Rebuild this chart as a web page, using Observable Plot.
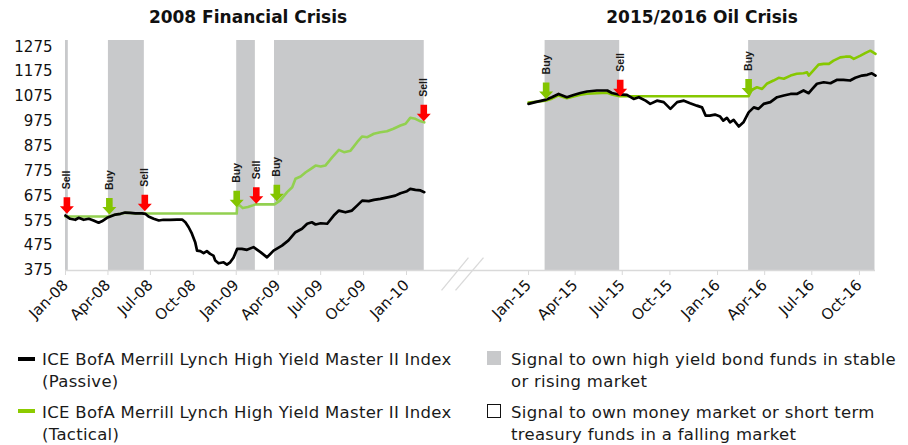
<!DOCTYPE html>
<html>
<head>
<meta charset="utf-8">
<script src="https://cdn.jsdelivr.net/npm/d3@7"></script>
<script src="https://cdn.jsdelivr.net/npm/@observablehq/plot@0.6"></script>
<style>
  body { margin: 0; background: #fff; }
  #wrap { position: relative; width: 908px; height: 445px; overflow: hidden; font-family: "DejaVu Sans", sans-serif; color: #111; }
  .title { position: absolute; top: 7px; font-weight: bold; font-size: 17px; line-height: 20px; transform: translateX(-50%); white-space: nowrap; color: #111; }
  .panel { position: absolute; top: 0; }
  .panel svg { overflow: visible; }
  .legtext { position: absolute; font-size: 16.5px; letter-spacing: 0.3px; line-height: 21.5px; white-space: nowrap; color: #1a1a1a; }
  .sw { position: absolute; }
</style>
</head>
<body>
<div id="wrap"></div>
<script>
// ---------- data ----------
const panelTitles = ["2008 Financial Crisis", "2015/2016 Oil Crisis"];
const yTicks = [375, 475, 575, 675, 775, 875, 975, 1075, 1175, 1275];
const yDomain = [375, 1300];

const leftTicks = ["2008-01-01","2008-04-01","2008-07-01","2008-10-01","2009-01-01","2009-04-01","2009-07-01","2009-10-01","2010-01-01"];
const rightTicks = ["2015-01-01","2015-04-01","2015-07-01","2015-10-01","2016-01-01","2016-04-01","2016-07-01","2016-10-01"];
const leftDomain = ["2008-01-01", "2010-04-16"];
const rightDomain = ["2014-07-15", "2016-11-01"];

// shaded periods: signal to own high yield bond funds
const leftShading = [["2008-01-01","2008-01-07"],["2008-04-02","2008-06-18"],["2009-01-02","2009-02-11"],["2009-03-24","2010-02-08"]];
const rightShading = [["2015-02-02","2015-06-26"],["2016-03-01","2016-10-31"]];

// ICE BofA Merrill Lynch High Yield Master II Index (Passive)
const passive2008 = [
 ["2008-01-01",596],["2008-01-11",583],["2008-01-22",579],["2008-01-29",587],["2008-02-09",579],["2008-02-20",583],
 ["2008-03-01",576],["2008-03-12",567],["2008-03-19",573],["2008-03-30",587],["2008-04-06",592],["2008-04-17",600],
 ["2008-04-28",603],["2008-05-08",608],["2008-05-19",607],["2008-05-30",605],["2008-06-13",605],["2008-06-20",603],
 ["2008-06-27",592],["2008-07-08",583],["2008-07-19",576],["2008-07-29",579],["2008-08-12",579],["2008-08-27",580],
 ["2008-09-07",580],["2008-09-14",569],["2008-09-21",549],["2008-09-28",523],["2008-10-05",489],["2008-10-09",455],
 ["2008-10-16",453],["2008-10-23",445],["2008-10-30",453],["2008-11-06",442],["2008-11-13",435],["2008-11-17",415],
 ["2008-11-24",404],["2008-12-05",408],["2008-12-12",399],["2008-12-19",408],["2008-12-26",426],["2009-01-03",462],
 ["2009-01-13",462],["2009-01-24",458],["2009-02-07",469],["2009-02-22",449],["2009-03-08",428],["2009-03-22",455],
 ["2009-04-09",475],["2009-04-23",496],["2009-05-08",529],["2009-05-22",543],["2009-06-02",563],["2009-06-12",569],
 ["2009-06-20",560],["2009-07-01",565],["2009-07-15",563],["2009-07-29",596],["2009-08-09",616],["2009-08-23",609],
 ["2009-09-06",616],["2009-09-17",636],["2009-09-28",656],["2009-10-12",654],["2009-10-23",659],["2009-11-06",663],
 ["2009-11-24",670],["2009-12-08",676],["2009-12-19",686],["2010-01-02",694],["2010-01-09",703],["2010-01-20",699],
 ["2010-01-31",697],["2010-02-08",690]
];
// ICE BofA Merrill Lynch High Yield Master II Index (Tactical)
const tactical2008 = [
 ["2008-01-01",592],["2008-04-02",592],["2008-04-06",594],["2008-04-17",600],["2008-04-28",603],["2008-05-08",607],
 ["2008-05-19",606],["2008-05-30",604],["2008-06-13",604],["2008-06-18",604],["2009-01-02",604],["2009-01-03",636],
 ["2009-01-08",638],["2009-01-15",626],["2009-01-26",630],["2009-02-07",638],["2009-02-11",641],["2009-03-24",641],
 ["2009-04-05",656],["2009-04-20",690],["2009-05-01",710],["2009-05-08",744],["2009-05-19",753],["2009-05-30",770],
 ["2009-06-10",784],["2009-06-20",797],["2009-07-01",793],["2009-07-11",797],["2009-07-26",831],["2009-08-09",860],
 ["2009-08-20",851],["2009-09-03",857],["2009-09-17",891],["2009-09-28",914],["2009-10-09",911],["2009-10-23",925],
 ["2009-11-06",931],["2009-11-20",935],["2009-12-04",945],["2009-12-19",958],["2009-12-30",965],["2010-01-09",989],
 ["2010-01-20",985],["2010-01-31",975],["2010-02-08",971]
];
const passive2015 = [
 ["2015-01-01",1045],["2015-01-14",1052],["2015-02-02",1061],["2015-02-15",1072],["2015-02-28",1085],["2015-03-16",1072],
 ["2015-03-29",1081],["2015-04-11",1089],["2015-04-24",1095],["2015-05-13",1099],["2015-06-02",1099],["2015-06-11",1089],
 ["2015-06-24",1083],["2015-07-10",1081],["2015-07-23",1065],["2015-08-02",1072],["2015-08-15",1058],["2015-08-24",1045],
 ["2015-09-06",1058],["2015-09-19",1052],["2015-10-02",1025],["2015-10-15",1052],["2015-10-28",1058],["2015-11-09",1048],
 ["2015-11-22",1038],["2015-12-02",1031],["2015-12-09",998],["2015-12-17",998],["2015-12-27",1002],["2016-01-06",994],
 ["2016-01-12",978],["2016-01-19",989],["2016-01-25",971],["2016-02-01",981],["2016-02-11",954],["2016-02-20",971],
 ["2016-03-01",1011],["2016-03-11",1031],["2016-03-20",1025],["2016-03-30",1045],["2016-04-12",1052],["2016-04-25",1072],
 ["2016-05-08",1079],["2016-05-21",1085],["2016-06-02",1085],["2016-06-15",1099],["2016-06-25",1088],["2016-07-02",1105],
 ["2016-07-11",1126],["2016-07-24",1132],["2016-08-06",1128],["2016-08-19",1142],["2016-08-31",1142],["2016-09-13",1139],
 ["2016-09-23",1150],["2016-10-06",1159],["2016-10-16",1162],["2016-10-25",1168],["2016-11-01",1159]
];
const tactical2015 = [
 ["2015-01-01",1050],["2015-02-02",1058],["2015-02-15",1066],["2015-02-28",1079],["2015-03-16",1068],["2015-03-29",1075],
 ["2015-04-11",1082],["2015-04-24",1086],["2015-05-13",1088],["2015-06-02",1090],["2015-06-11",1083],["2015-06-26",1076],
 ["2016-03-01",1076],["2016-03-07",1101],["2016-03-17",1112],["2016-03-27",1105],["2016-04-05",1126],["2016-04-18",1139],
 ["2016-04-28",1150],["2016-05-08",1146],["2016-05-21",1159],["2016-06-02",1166],["2016-06-15",1168],["2016-06-22",1172],
 ["2016-06-25",1159],["2016-07-05",1182],["2016-07-14",1203],["2016-07-24",1206],["2016-08-03",1206],["2016-08-12",1219],
 ["2016-08-25",1232],["2016-09-04",1235],["2016-09-13",1235],["2016-09-20",1226],["2016-10-03",1239],["2016-10-12",1249],
 ["2016-10-22",1259],["2016-11-01",1246]
];

// buy / sell signals (date, value at arrow tip, type)
const leftSignals = [["2008-01-04",603,"Sell"],["2008-04-04",600,"Buy"],["2008-06-19",613,"Sell"],["2009-01-02",629,"Buy"],["2009-02-13",643,"Sell"],["2009-03-29",654,"Buy"],["2010-02-07",975,"Sell"]];
const rightSignals = [["2015-02-04",1065,"Buy"],["2015-06-27",1076,"Sell"],["2016-03-01",1079,"Buy"]];

// axis break marks (decoration between the panels)
const axisBreak = [["2014-07-17",295,"2014-09-07",427],["2014-08-13",295,"2014-10-06",427]];

const legendLines = [
  ["ICE BofA Merrill Lynch High Yield Master II Index", "(Passive)"],
  ["ICE BofA Merrill Lynch High Yield Master II Index", "(Tactical)"],
  ["Signal to own high yield bond funds in stable", "or rising market"],
  ["Signal to own money market or short term", "treasury funds in a falling market"]
];

// ---------- helpers ----------
const D = s => new Date(s + "T00:00:00Z");
const rows = arr => arr.map(([d, v]) => ({date: D(d), value: v}));
const shade = arr => arr.map(([a, b]) => ({start: D(a), end: D(b)}));
const sig = arr => arr.map(([d, v, t]) => ({date: D(d), value: v, type: t}));

const BLACK = "#000000", RED = "#ff0000", GRAY = "#c8c9cb", AXIS = "#d9d9d9";
const ARROW_GREEN = "#84c500";

const arrowSymbol = {
  draw(ctx) {
    const L = 16.5, H = 7.5, hw = 7, sw = 3.3;
    ctx.moveTo(0, 0);
    ctx.lineTo(-hw, -H);
    ctx.lineTo(-sw, -H);
    ctx.lineTo(-sw, -L);
    ctx.lineTo(sw, -L);
    ctx.lineTo(sw, -H);
    ctx.lineTo(hw, -H);
    ctx.closePath();
  }
};

function panel({width, marginLeft, marginRight, domain, ticks, shading, passive, tactical, signals, lineGreen, showY, extra = []}) {
  return Plot.plot({
    width, height: 340,
    marginLeft, marginRight, marginTop: 40, marginBottom: 70,
    style: {background: "transparent", fontFamily: "DejaVu Sans", fontSize: "15px", color: "#111", overflow: "visible"},
    x: {type: "utc", domain: domain.map(D), label: null},
    y: {domain: yDomain, label: null, axis: showY ? undefined : null},
    marks: [
      Plot.rect(shade(shading), {x1: "start", x2: "end", fill: GRAY}),
      Plot.ruleY([375], {stroke: AXIS, strokeWidth: 1.5}),
      ...extra,
      showY ? Plot.axisY({ticks: yTicks, tickSize: 0, tickPadding: 13, fontSize: 15, label: null, tickFormat: d => String(d)}) : null,
      Plot.axisX({ticks: ticks.map(D), tickFormat: d3.utcFormat("%b-%y"), tickRotate: -45, tickSize: 5, tickPadding: 7, stroke: AXIS, fill: "#111", fontSize: 15, label: null}),
      Plot.line(rows(tactical), {x: "date", y: "value", stroke: lineGreen, strokeWidth: 2.6}),
      Plot.line(rows(passive), {x: "date", y: "value", stroke: BLACK, strokeWidth: 2.7}),
      Plot.dot(sig(signals), {x: "date", y: "value", symbol: arrowSymbol, r: 8, fill: d => d.type === "Buy" ? ARROW_GREEN : RED, stroke: "none"}),
      Plot.text(sig(signals), {x: "date", y: "value", text: "type", rotate: -90, textAnchor: "start", dy: -24.5, fontWeight: "bold", fontSize: 10.5, fontFamily: "Liberation Sans", fill: "#1a1a1a"})
    ]
  });
}

const wrap = document.getElementById("wrap");

const leftPlot = panel({width: 455, marginLeft: 65, marginRight: 0, domain: leftDomain, ticks: leftTicks,
  shading: leftShading, passive: passive2008, tactical: tactical2008, signals: leftSignals, lineGreen: "#92d050", showY: true});
const rightPlot = panel({width: 468, marginLeft: 0, marginRight: 33, domain: rightDomain, ticks: rightTicks,
  shading: rightShading, passive: passive2015, tactical: tactical2015, signals: rightSignals, lineGreen: "#86c800", showY: false,
  extra: [Plot.link(axisBreak.map(([a, b, c, e]) => ({x1: D(a), y1: b, x2: D(c), y2: e})), {x1: "x1", y1: "y1", x2: "x2", y2: "y2", stroke: AXIS, strokeWidth: 1.3})]});

const lp = document.createElement("div"); lp.className = "panel"; lp.style.left = "0px"; lp.appendChild(leftPlot); wrap.appendChild(lp);
const rp = document.createElement("div"); rp.className = "panel"; rp.style.left = "440px"; rp.appendChild(rightPlot); wrap.appendChild(rp);

// titles
[[panelTitles[0], 248], [panelTitles[1], 702]].forEach(([t, cx]) => {
  const d = document.createElement("div"); d.className = "title"; d.textContent = t; d.style.left = cx + "px"; wrap.appendChild(d);
});

// legend
function addText(lines, left, top) {
  const d = document.createElement("div"); d.className = "legtext";
  d.style.left = left + "px"; d.style.top = top + "px";
  d.innerHTML = lines.join("<br>");
  wrap.appendChild(d);
}
function addSwatch(left, top, w, h, bg, border) {
  const s = document.createElement("div"); s.className = "sw";
  Object.assign(s.style, {left: left + "px", top: top + "px", width: w + "px", height: h + "px", background: bg, border: border || "none", boxSizing: "border-box"});
  wrap.appendChild(s);
}
addSwatch(18, 357, 17, 4, BLACK);
addText(legendLines[0], 42, 349);
addSwatch(18, 409, 17, 4, "#8ccb00");
addText(legendLines[1], 42, 402);
addSwatch(487, 351, 14, 14, GRAY);
addText(legendLines[2], 511, 349);
addSwatch(487, 404, 14, 14, "#fff", "1px solid #111");
addText(legendLines[3], 511, 402);
</script>
</body>
</html>
